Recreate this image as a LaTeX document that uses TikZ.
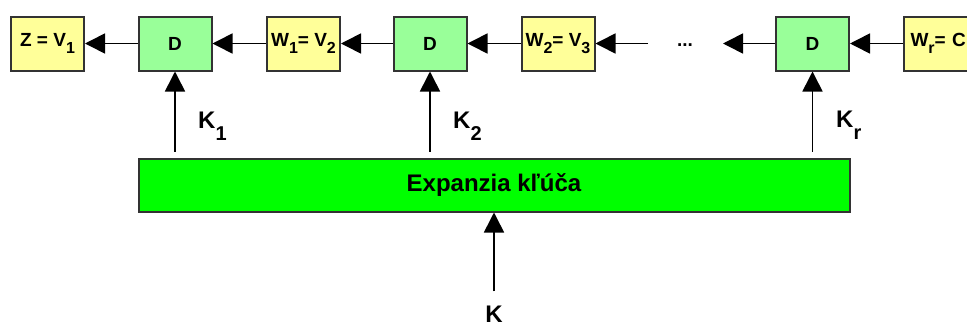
\documentclass[tikz,border=0pt]{standalone}
\usepackage{fontspec}
\setmainfont{Liberation Sans}
\usetikzlibrary{arrows.meta,positioning}
\definecolor{zlta}{HTML}{FFFF99}
\definecolor{svzel}{HTML}{99FF99}
\definecolor{zel}{HTML}{00FF00}
\definecolor{okraj}{HTML}{333333}
\newcommand{\dolny}[1]{\raisebox{-7pt}{\fontsize{16}{16}\selectfont #1}}
\newcommand{\kluc}[1]{K\raisebox{-12pt}{\fontsize{20}{20}\selectfont #1}}
\begin{document}
\begin{tikzpicture}[x=1pt,y=-1pt,
  blok/.style={draw=okraj,line width=2pt,minimum width=73pt,minimum height=54pt,inner sep=0pt,font=\fontsize{19}{22}\selectfont\bfseries},
  hodn/.style={blok,fill=zlta},
  sifra/.style={blok,fill=svzel},
  popis/.style={inner sep=0pt,font=\fontsize{24}{26}\selectfont\bfseries},
  sip/.style={-{Triangle[length=20pt,width=20pt]},line width=1.6pt,draw=black}]
\useasboundingbox (0,0) rectangle (967,327);
% horny rad
\node[hodn]  (z)  at (47.5,43.5) {Z = V\dolny{1}};
\node[sifra] (d1) at (175,43.5) {D};
\node[hodn]  (w1) at (303.5,43.5) {W\dolny{1}= V\dolny{2}};
\node[sifra] (d2) at (430,43.5) {D};
\node[hodn]  (w2) at (558,43.5) {W\dolny{2}= V\dolny{3}};
\coordinate (vstup) at (648,43.5);
\node[font=\fontsize{19}{22}\selectfont\bfseries] (bodky) at (685,45) {...};
\coordinate (vystup) at (723,43.5);
\node[sifra] (d3) at (812.5,43.5) {D};
\node[hodn,text width=60pt] (wr) at (940.5,43.5) {W\dolny{r}= C};
% expanzia
\node[draw=okraj,line width=2pt,fill=zel,minimum width=711pt,minimum height=53pt,inner sep=0pt,
  font=\fontsize{24}{26}\selectfont\bfseries] (exp) at (494,185) {Expanzia kľúča};
\node[popis,anchor=base] (k) at (494,322) {K};
% sipky
\draw[sip] (w1) -- (d1);
\draw[sip] (d1) -- (z);
\draw[sip] (w2) -- (d2);
\draw[sip] (d2) -- (w1);
\draw[sip] (vstup) -- (w2);
\draw[sip] (d3) -- (vystup);
\draw[sip] (wr) -- (d3);
\foreach \d in {d1,d2,d3}
  \draw[sip,shorten <=6pt] (exp.north -| \d) -- (\d.south);
\draw[sip,shorten <=14pt] (k.north) -- (exp.south -| k);
% kluce
\node[popis,anchor=base west] (k1) at (198,128) {\kluc{1}};
\node[popis,anchor=base west] (k2) at (453,128) {\kluc{2}};
\node[popis,anchor=base west] (kr) at (836,127.5) {\kluc{r}};
\end{tikzpicture}
\end{document}
